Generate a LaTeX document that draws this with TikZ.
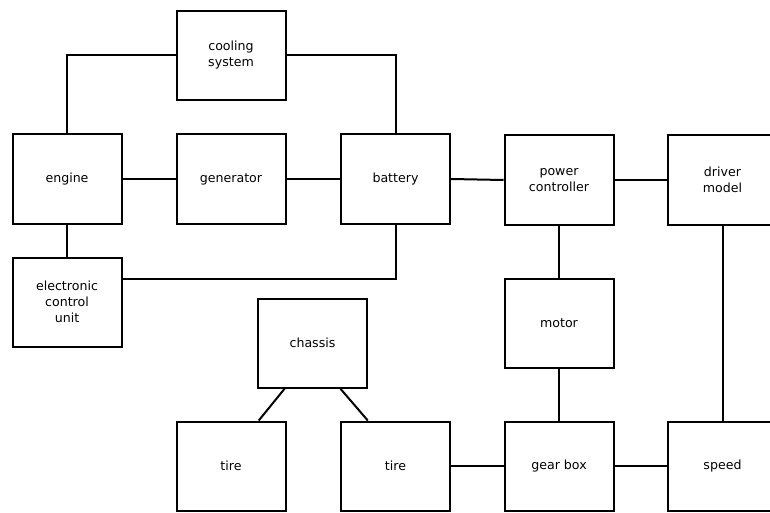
\documentclass[tikz,border=0pt]{standalone}
\usepackage{fontspec}
\setmainfont{DejaVu Sans}
\usetikzlibrary{calc}
\begin{document}
\begin{tikzpicture}[x=1pt,y=-1pt,
  blk/.style={draw,line width=2pt,minimum width=109pt,minimum height=89pt,inner sep=0pt,align=center,
    font=\fontsize{12.6pt}{16pt}\selectfont},
  wire/.style={line width=2pt}]
\useasboundingbox (0,0) rectangle (770,513);
\node[blk] (cool) at (231,55.5) {cooling\\system};
\node[blk] (engine) at (67,179) {engine};
\node[blk] (gen) at (231,179) {generator};
\node[blk] (bat) at (395.5,179) {battery};
\node[blk] (pc) at (559,180) {power\\controller};
\node[blk] (drv) at (722.5,180) {driver\\model};
\node[blk] (ecu) at (67,302) {electronic\\control\\unit};
\node[blk] (chassis) at (312.5,343) {chassis};
\node[blk] (motor) at (559,323) {motor};
\node[blk] (tire1) at (231,466) {tire};
\node[blk] (tire2) at (395.5,466) {tire};
\node[blk] (gear) at (559,466) {gear box};
\node[blk] (speed) at (722.5,466) {speed};
\draw[wire] (engine.north) |- (cool.west);
\draw[wire] (cool.east) -| (bat.north);
\draw[wire] (engine) -- (gen);
\draw[wire] (gen) -- (bat);
\draw[wire] (bat.east) -- (pc.west);
\draw[wire] (pc) -- (drv);
\draw[wire] (engine) -- (ecu);
\draw[wire] ($(ecu.north east)!0.25!(ecu.south east)$) -| (bat.south);
\draw[wire] (pc) -- (motor);
\draw[wire] (motor) -- (gear);
\draw[wire] (drv) -- (speed);
\draw[wire] (tire2) -- (gear);
\draw[wire] (gear) -- (speed);
\draw[wire] ($(chassis.south west)!0.25!(chassis.south east)$) -- ($(tire1.north west)!0.75!(tire1.north east)$);
\draw[wire] ($(chassis.south west)!0.75!(chassis.south east)$) -- ($(tire2.north west)!0.25!(tire2.north east)$);
\end{tikzpicture}
\end{document}
